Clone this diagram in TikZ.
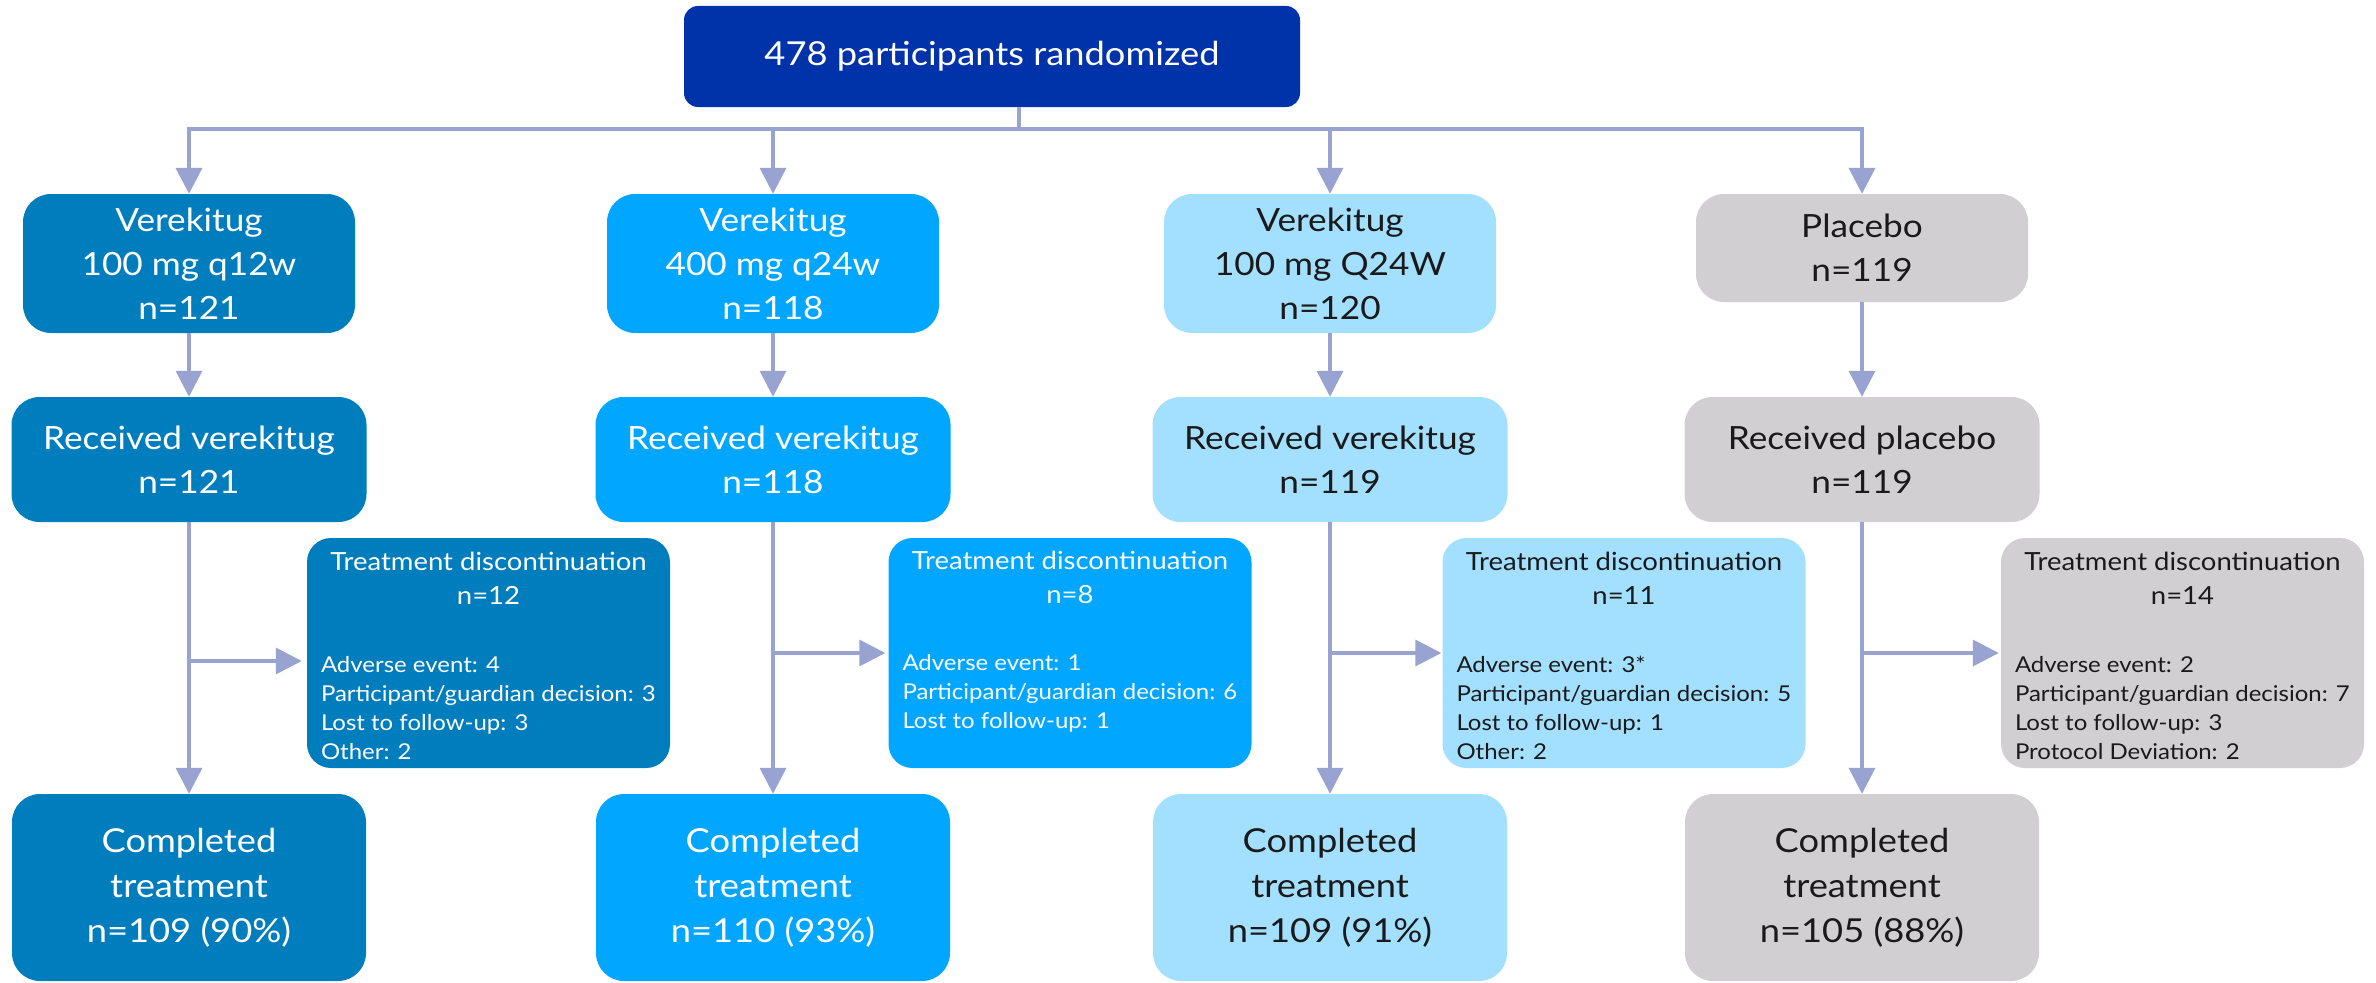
\documentclass[tikz,border=0pt]{standalone}
\usepackage{fontspec}
\setmainfont[FakeStretch=1.1]{Lato}
\usetikzlibrary{arrows.meta}
\definecolor{cTop}{HTML}{0033AA}
\definecolor{cA}{HTML}{007DBD}
\definecolor{cB}{HTML}{00A6FF}
\definecolor{cC}{HTML}{A3DFFF}
\definecolor{cD}{HTML}{D1CFD1}
\definecolor{cLine}{HTML}{98A3D1}
\definecolor{cDark}{HTML}{1A1A1A}
\newcommand{\ftop}{\fontsize{33}{44}\selectfont}
\newcommand{\fmain}{\fontsize{32}{44}\selectfont}
\newcommand{\fbig}{\fontsize{33}{45}\selectfont}
\newcommand{\ftitle}{\fontsize{25}{34}\selectfont}
\newcommand{\fdet}{\fontsize{21.8}{29}\selectfont}
\begin{document}
\begin{tikzpicture}[x=1pt,y=-1pt,
  box/.style={rounded corners=28pt, inner sep=0pt, align=center},
  lvl/.style={box, minimum width=332pt, minimum height=139pt, font=\fmain},
  rcv/.style={box, minimum width=355pt, minimum height=125pt, font=\fmain},
  cmp/.style={box, minimum width=354pt, minimum height=187pt, font=\fbig},
  dsc/.style={box, rounded corners=24pt, minimum width=363pt, minimum height=230pt},
  ttl/.style={inner sep=0pt, align=center, font=\ftitle},
  det/.style={inner sep=0pt, align=left, font=\fdet, anchor=north west},
  colA/.style={fill=cA, text=white},
  colB/.style={fill=cB, text=white},
  colC/.style={fill=cC, text=cDark},
  colD/.style={fill=cD, text=cDark},
  link/.style={draw=cLine, line width=3.5pt},
  tip/.tip={Triangle[length=26pt,width=26pt]},
  arr/.style={link, -tip},
]
\useasboundingbox (0,0) rectangle (2376,982);

% top
\node[box, fill=cTop, text=white, rounded corners=14pt, minimum width=616pt,
      minimum height=101pt, font=\ftop] (top) at (992,56.5) {478 participants randomized};

% level 1
\node[lvl, colA] (v1) at (189,263.5) {Verekitug\\100 mg q12w\\n=121};
\node[lvl, colB] (v2) at (773,263.5) {Verekitug\\400 mg q24w\\n=118};
\node[lvl, colC] (v3) at (1330,263.5) {Verekitug\\100 mg Q24W\\n=120};
\node[lvl, colD, minimum height=108pt] (v4) at (1862,248) {Placebo\\n=119};

% received
\node[rcv, colA] (r1) at (189,459.5) {Received verekitug\\n=121};
\node[rcv, colB] (r2) at (773,459.5) {Received verekitug\\n=118};
\node[rcv, colC] (r3) at (1330,459.5) {Received verekitug\\n=119};
\node[rcv, colD] (r4) at (1862,459.5) {Received placebo\\n=119};

% completed
\node[cmp, colA] (c1) at (189,887.5) {Completed\\treatment\\n=109 (90\%)};
\node[cmp, colB] (c2) at (773,887.5) {Completed\\treatment\\n=110 (93\%)};
\node[cmp, colC] (c3) at (1330,887.5) {Completed\\treatment\\n=109 (91\%)};
\node[cmp, colD] (c4) at (1862,887.5) {Completed\\treatment\\n=105 (88\%)};

% discontinuation boxes
\node[dsc, colA] (d1) at (488.5,653) {};
\node[dsc, colB] (d2) at (1070,653) {};
\node[dsc, colC] (d3) at (1624,653) {};
\node[dsc, colD] (d4) at (2182.5,653) {};

\node[ttl, text=white] (d1t) at ([yshift=-40pt]d1.north) {Treatment discontinuation\\n=12};
\node[ttl, text=white] (d2t) at ([yshift=-40pt]d2.north) {Treatment discontinuation\\n=8};
\node[ttl, text=cDark] (d3t) at ([yshift=-40pt]d3.north) {Treatment discontinuation\\n=11};
\node[ttl, text=cDark] (d4t) at ([yshift=-40pt]d4.north) {Treatment discontinuation\\n=14};

\node[det, text=white] (d1d) at ([xshift=14pt,yshift=-118pt]d1.north west)
  {Adverse event: 4\\Participant/guardian decision: 3\\Lost to follow-up: 3\\Other: 2};
\node[det, text=white] (d2d) at ([xshift=14pt,yshift=-116pt]d2.north west)
  {Adverse event: 1\\Participant/guardian decision: 6\\Lost to follow-up: 1};
\node[det, text=cDark] (d3d) at ([xshift=14pt,yshift=-118pt]d3.north west)
  {Adverse event: 3*\\Participant/guardian decision: 5\\Lost to follow-up: 1\\Other: 2};
\node[det, text=cDark] (d4d) at ([xshift=14pt,yshift=-118pt]d4.north west)
  {Adverse event: 2\\Participant/guardian decision: 7\\Lost to follow-up: 3\\Protocol Deviation: 2};

% connectors
\coordinate (br) at (1019,129);
\draw[link] (top.south -| br) -- (br);
\draw[link, line width=4pt, tip-tip] (v1.north) -- (v1.north |- br) -- (v4.north |- br) -- (v4.north);
\draw[arr] (v2.north |- br) -- (v2.north);
\draw[arr] (v3.north |- br) -- (v3.north);

\draw[arr] (v1.south) -- (r1.north);
\draw[arr] (v2.south) -- (r2.north);
\draw[arr] (v3.south) -- (r3.north);
\draw[arr] (v4.south) -- (r4.north);

\draw[arr] (r1.south) -- (c1.north);
\draw[arr] (r2.south) -- (c2.north);
\draw[arr] (r3.south) -- (c3.north);
\draw[arr] (r4.south) -- (c4.north);

\coordinate (s1) at (189,661);
\coordinate (s2) at (773,653);
\coordinate (s3) at (1330,653);
\coordinate (s4) at (1862,653);
\draw[arr, shorten >=5pt] (s1) -- (s1 -| d1.west);
\draw[arr, shorten >=3pt] (s2) -- (s2 -| d2.west);
\draw[arr, shorten >=1pt] (s3) -- (s3 -| d3.west);
\draw[arr, shorten >=2pt] (s4) -- (s4 -| d4.west);
\end{tikzpicture}
\end{document}
